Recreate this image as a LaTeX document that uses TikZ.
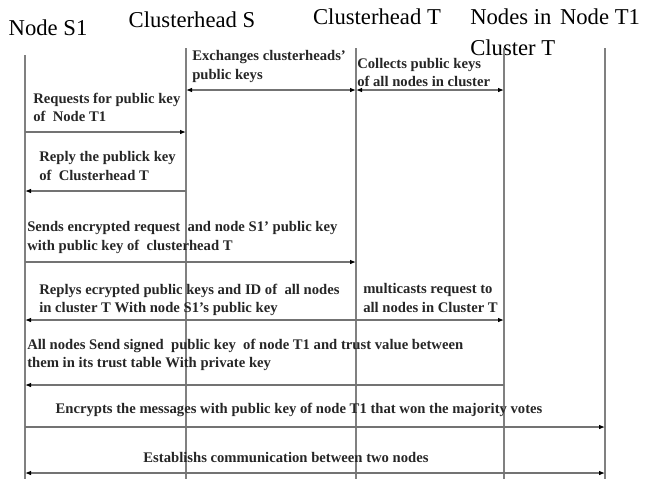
\documentclass[tikz,border=0pt]{standalone}
\usepackage{fontspec}
\setmainfont{Liberation Serif}
\usetikzlibrary{arrows.meta}
\begin{document}
\begin{tikzpicture}[x=0.75pt,y=-0.75pt,
    >={Latex[length=4.5pt,width=3.5pt,black]},
    head/.style={font=\fontsize{17}{23.3}\selectfont,inner sep=0pt},
    msgtext/.style={font=\bfseries\fontsize{11}{14}\selectfont,align=left,inner sep=0pt,text=black!85},
    life/.style={draw=black!50,line width=0.9pt},
    msg/.style={draw=black!55,line width=0.9pt}]
    \useasboundingbox (0,0) rectangle (645,479);

    \node[head](hs1) at (48,28) {Node S1};
    \node[head](hcs) at (192,20) {Clusterhead S};
    \node[head](hct) at (377,17) {Clusterhead T};
    \node[head,align=left,anchor=west](hnt) at (470,32) {Nodes in\\Cluster T};
    \node[head](ht1) at (600,17) {Node T1};

    \coordinate(ls1) at (25,55);
    \coordinate(lcs) at (186,48);
    \coordinate(lct) at (356,48);
    \coordinate(lnt) at (504,48);
    \coordinate(lt1) at (605,48);
    \coordinate(bot) at (0,479);
    \foreach \l in {ls1,lcs,lct,lnt,lt1}
        \draw[life] (\l)--(\l|-bot);

    \coordinate(r1) at (0,90);
    \coordinate(r2) at (0,132);
    \coordinate(r3) at (0,191);
    \coordinate(r4) at (0,262);
    \coordinate(r5) at (0,320);
    \coordinate(r6) at (0,385);
    \coordinate(r7) at (0,427);
    \coordinate(r8) at (0,473);

    \draw[msg,<->] (lcs|-r1)--(lct|-r1);
    \draw[msg,<->] (lct|-r1)--(lnt|-r1);
    \draw[msg,->] (ls1|-r2)--(lcs|-r2);
    \draw[msg,->] (lcs|-r3)--(ls1|-r3);
    \draw[msg,->] (ls1|-r4)--(lct|-r4);
    \draw[msg,->] (lct|-r5)--(ls1|-r5);
    \draw[msg,->] (lct|-r5)--(lnt|-r5);
    \draw[msg,->] (lnt|-r6)--(ls1|-r6);
    \draw[msg,->] (ls1|-r7)--(lt1|-r7);
    \draw[msg,<->] (ls1|-r8)--(lt1|-r8);

    \node[msgtext,anchor=west](m1) at (192,66.5) {Exchanges clusterheads'\\public keys};
    \node[msgtext,anchor=west](m2) at (357,72.5) {Collects public keys\\of all nodes in cluster};
    \node[msgtext,anchor=west](m3) at (33,107.5) {Requests for public key\\of\ \ Node T1};
    \node[msgtext,anchor=west](m4) at (39,166) {Reply the publick key\\of\ \ Clusterhead T};
    \node[msgtext,anchor=west](m5) at (27,237.5) {Sends encrypted request\ \ and node S1' public key\\with public key of\ \ clusterhead T};
    \node[msgtext,anchor=west](m6) at (39,300) {Replys ecrypted public keys and ID of\ \ all nodes\\in cluster T With node S1's public key};
    \node[msgtext,anchor=west](m7) at (363,298) {multicasts request to\\all nodes in Cluster T};
    \node[msgtext,anchor=west](m8) at (27,355) {All nodes Send signed\ \ public key\ \ of node T1 and trust value between\\them in its trust table With private key};
    \node[msgtext](m9) at (299,410) {Encrypts the messages with public key of node T1 that won the majority votes};
    \node[msgtext](m10) at (286,457) {Establishs communication between two nodes};
\end{tikzpicture}
\end{document}
